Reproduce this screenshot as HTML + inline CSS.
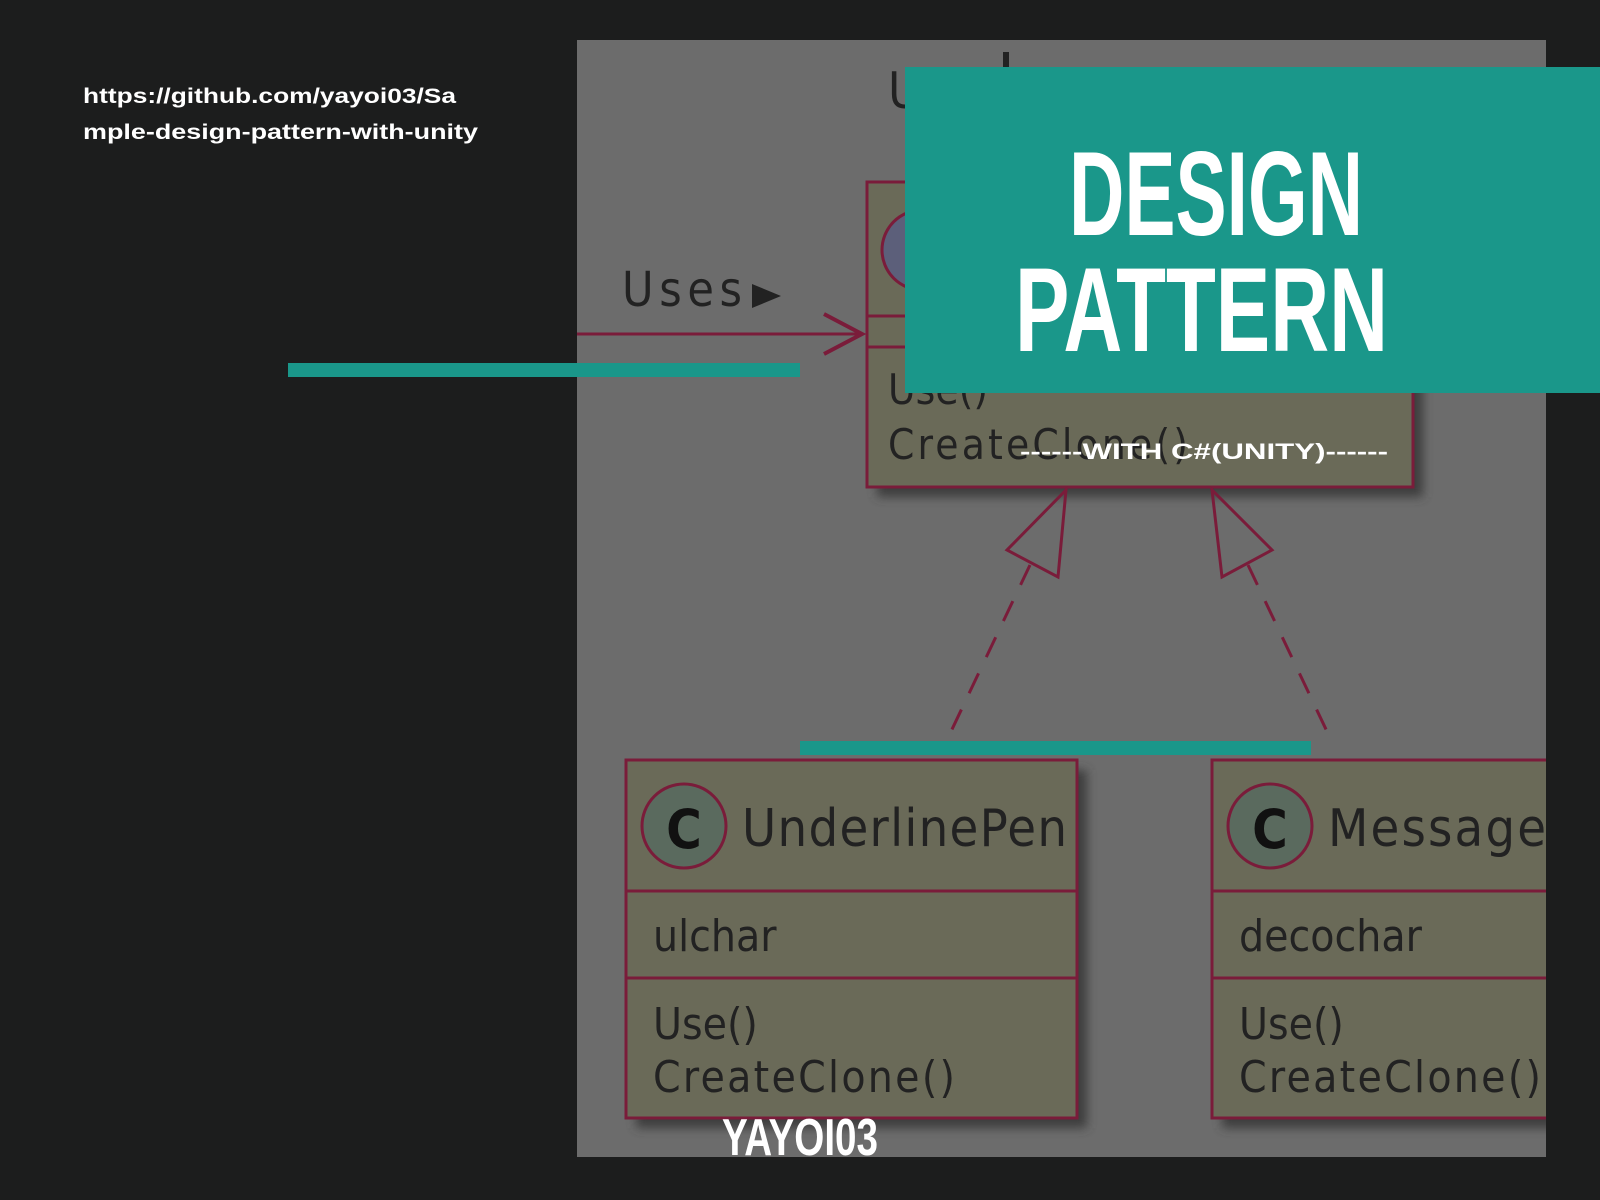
<!DOCTYPE html>
<html><head><meta charset="utf-8"><style>
html,body{margin:0;padding:0;background:#1c1d1d;}
svg{display:block}
</style></head><body>
<svg width="1600" height="1200" viewBox="0 0 1600 1200" xmlns="http://www.w3.org/2000/svg">
<defs>
<filter id="sh" x="-10%" y="-10%" width="130%" height="130%"><feGaussianBlur stdDeviation="5"/></filter>
</defs>
<rect width="1600" height="1200" fill="#1c1d1d"/>
<rect x="577" y="40" width="969" height="1117" fill="#6c6c6c"/>
<g font-family="'DejaVu Sans Condensed','DejaVu Sans', sans-serif" fill="#222">
<text x="888" y="108" font-size="50">U</text>
<rect x="1003" y="52" width="6" height="30" fill="#222"/>
<rect x="877" y="192" width="546" height="305" fill="#3e3e3e" filter="url(#sh)"/>
<rect x="867" y="182" width="546" height="305" fill="#6a6a58" stroke="#7a1c3a" stroke-width="3"/>
<line x1="867" y1="316" x2="1413" y2="316" stroke="#7a1c3a" stroke-width="3"/>
<line x1="867" y1="347" x2="1413" y2="347" stroke="#7a1c3a" stroke-width="3"/>
<circle cx="922" cy="250" r="40" fill="#5c5f7a" stroke="#7a1c3a" stroke-width="3"/>
<text x="888" y="404" font-size="42">Use()</text>
<text x="888" y="459" font-size="42" textLength="300">CreateClone()</text>
<line x1="577" y1="334" x2="862" y2="334" stroke="#7a1c3a" stroke-width="3"/>
<path d="M824 314 L862 334 L824 354" fill="none" stroke="#7a1c3a" stroke-width="4"/>
<text x="622" y="306" font-size="48" textLength="120">Uses</text>
<path d="M752 284 L781 296 L752 308 Z" fill="#222"/>
<path d="M1066 490 L1007 550 L1058 577 Z" fill="none" stroke="#7a1c3a" stroke-width="3"/>
<path d="M1212 490 L1222 577 L1272 550 Z" fill="none" stroke="#7a1c3a" stroke-width="3"/>
<line x1="1030" y1="565" x2="946" y2="742" stroke="#7a1c3a" stroke-width="3" stroke-dasharray="22 18"/>
<line x1="1248" y1="565" x2="1332" y2="742" stroke="#7a1c3a" stroke-width="3" stroke-dasharray="22 18"/>
<rect x="636" y="770" width="451" height="358" fill="#3e3e3e" filter="url(#sh)"/>
<rect x="626" y="760" width="451" height="358" fill="#6a6a58" stroke="#7a1c3a" stroke-width="3"/>
<line x1="626" y1="891" x2="1077" y2="891" stroke="#7a1c3a" stroke-width="3"/>
<line x1="626" y1="978" x2="1077" y2="978" stroke="#7a1c3a" stroke-width="3"/>
<circle cx="684" cy="826" r="42" fill="#5a6a5e" stroke="#7a1c3a" stroke-width="3"/>
<text x="684" y="848" font-size="54" font-weight="bold" text-anchor="middle" fill="#111">C</text>
<text x="742" y="846" font-size="52" textLength="325">UnderlinePen</text>
<text x="653" y="951" font-size="44">ulchar</text>
<text x="653" y="1039" font-size="44">Use()</text>
<text x="653" y="1092" font-size="44" textLength="302">CreateClone()</text>
<rect x="1222" y="770" width="400" height="358" fill="#3e3e3e" filter="url(#sh)"/>
<rect x="1212" y="760" width="400" height="358" fill="#6a6a58" stroke="#7a1c3a" stroke-width="3"/>
<line x1="1212" y1="891" x2="1546" y2="891" stroke="#7a1c3a" stroke-width="3"/>
<line x1="1212" y1="978" x2="1546" y2="978" stroke="#7a1c3a" stroke-width="3"/>
<circle cx="1270" cy="826" r="42" fill="#5a6a5e" stroke="#7a1c3a" stroke-width="3"/>
<text x="1270" y="848" font-size="54" font-weight="bold" text-anchor="middle" fill="#111">C</text>
<text x="1328" y="846" font-size="52" textLength="218">Message</text>
<text x="1239" y="951" font-size="44">decochar</text>
<text x="1239" y="1039" font-size="44">Use()</text>
<text x="1239" y="1092" font-size="44" textLength="302">CreateClone()</text>
</g>
<rect x="1546" y="0" width="54" height="1200" fill="#1c1d1d"/>
<rect x="577" y="1157" width="1023" height="43" fill="#1c1d1d"/>
<rect x="905" y="67" width="695" height="326" fill="#1a978a"/>
<rect x="288" y="363" width="512" height="14" fill="#1a978a"/>
<rect x="800" y="741" width="511" height="14" fill="#1a978a"/>
<g fill="#ffffff" font-family="'Liberation Sans Narrow','Liberation Sans',sans-serif" font-weight="bold">
<text x="1069" y="235" font-size="120" textLength="294" lengthAdjust="spacingAndGlyphs">DESIGN</text>
<text x="1015" y="351" font-size="120" textLength="373" lengthAdjust="spacingAndGlyphs">PATTERN</text>
<text x="722" y="1155" font-size="52" textLength="156" lengthAdjust="spacingAndGlyphs">YAYOI03</text>
</g>
<g fill="#ffffff" font-family="'Liberation Sans',sans-serif" font-weight="bold">
<text x="1020" y="459" font-size="22" textLength="368" lengthAdjust="spacingAndGlyphs">------WITH C#(UNITY)------</text>
<text x="83" y="103" font-size="21" textLength="373" lengthAdjust="spacingAndGlyphs">https://github.com/yayoi03/Sa</text>
<text x="83" y="139" font-size="21" textLength="395" lengthAdjust="spacingAndGlyphs">mple-design-pattern-with-unity</text>
</g>
</svg>
</body></html>
